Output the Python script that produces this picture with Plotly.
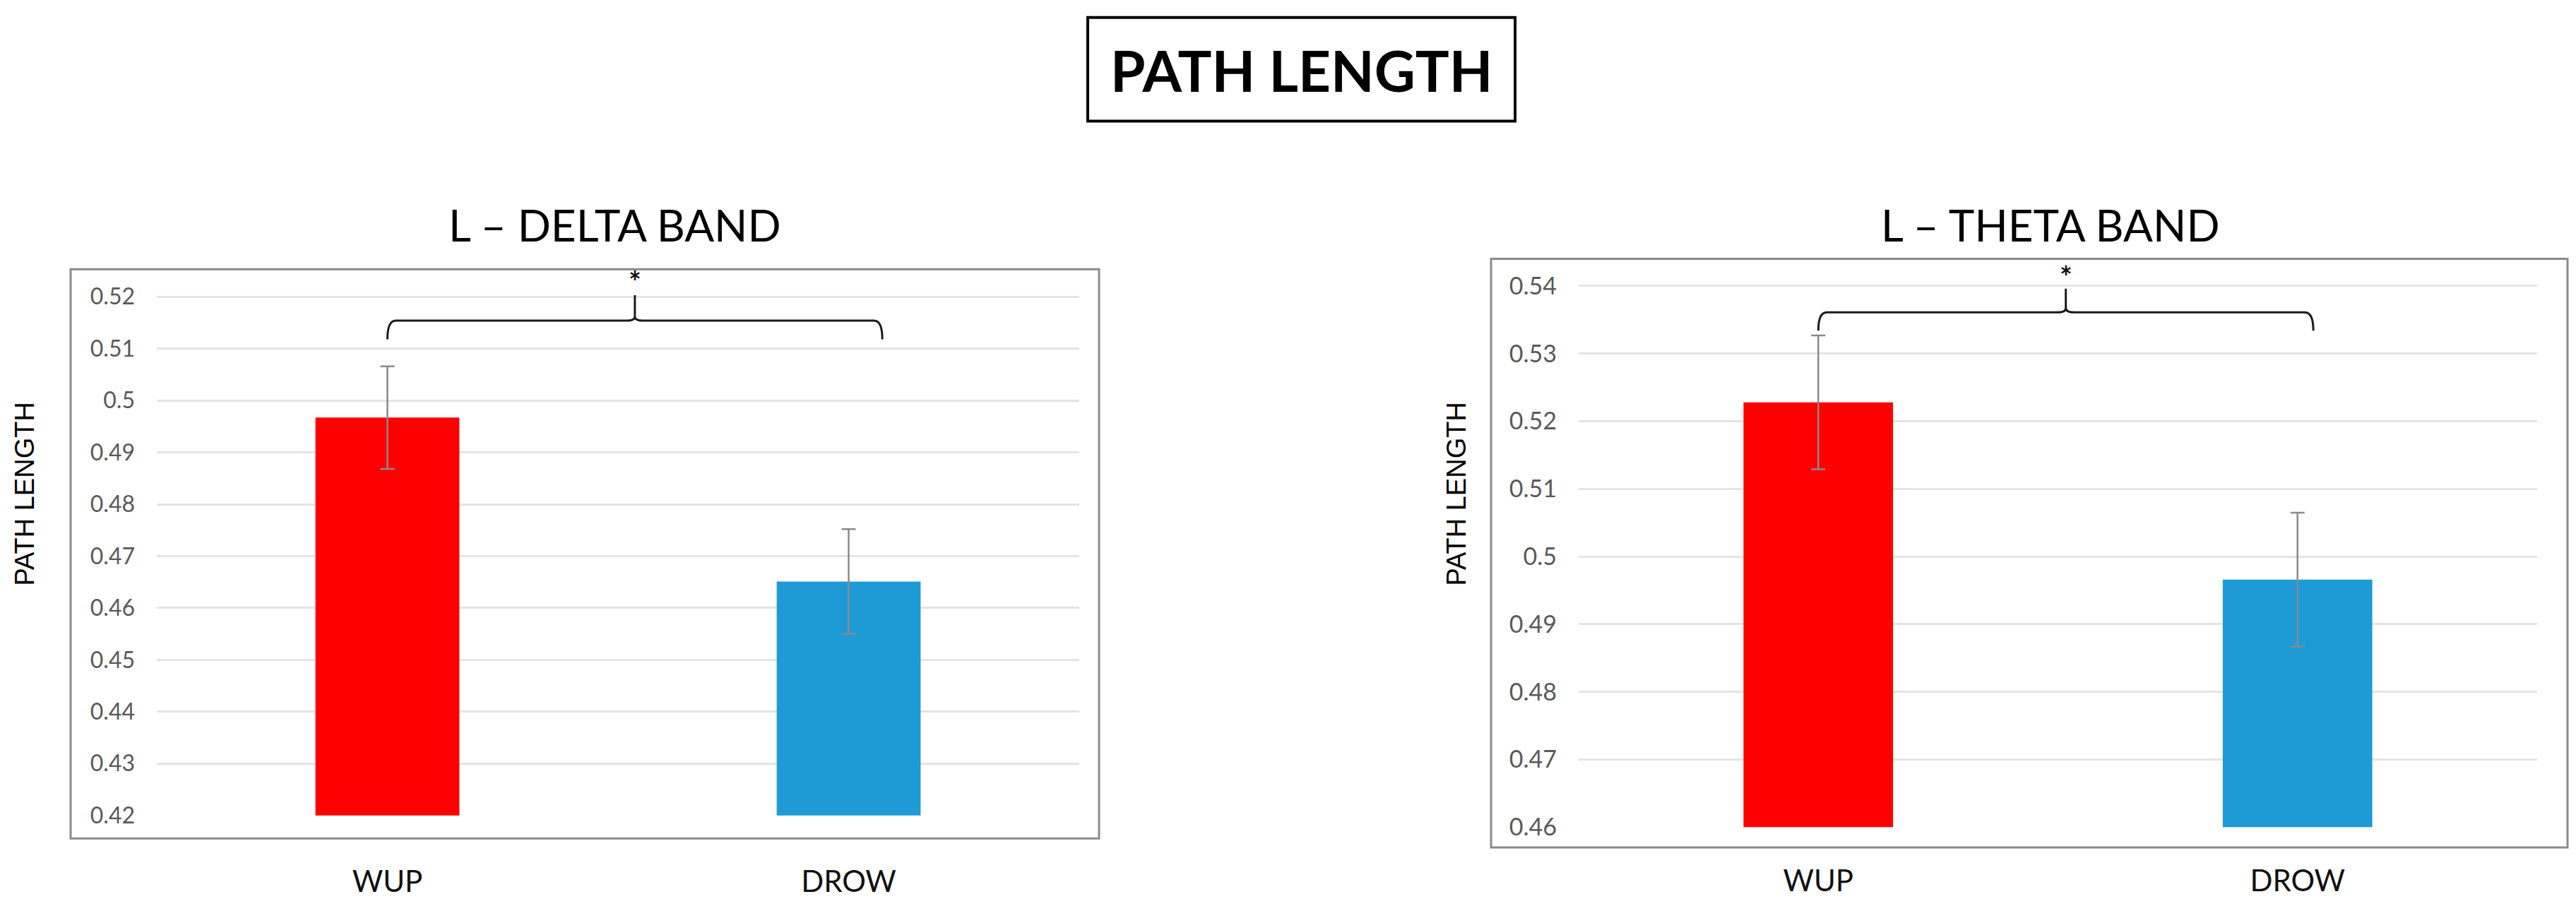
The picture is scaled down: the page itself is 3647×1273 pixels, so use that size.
import plotly.graph_objects as go

# ---- data ----
categories = ["WUP", "DROW"]

delta_means = [0.4967, 0.4651]
delta_errors = [0.0099, 0.0101]

theta_means = [0.5228, 0.4966]
theta_errors = [0.0099, 0.0099]

delta_ticks = [0.42, 0.43, 0.44, 0.45, 0.46, 0.47, 0.48, 0.49, 0.50, 0.51, 0.52]
delta_ticktext = ["0.42", "0.43", "0.44", "0.45", "0.46", "0.47", "0.48", "0.49", "0.5", "0.51", "0.52"]
theta_ticks = [0.46, 0.47, 0.48, 0.49, 0.50, 0.51, 0.52, 0.53, 0.54]
theta_ticktext = ["0.46", "0.47", "0.48", "0.49", "0.5", "0.51", "0.52", "0.53", "0.54"]

# significance bracket: left x, right x, bar level, tip level, spike top, star level
delta_bracket = dict(x0=0.0, x1=1.073, yh=0.5154, yt=0.5118, ys=0.5203, ystar=0.5229)
theta_bracket = dict(x0=0.0, x1=1.033, yh=0.5361, yt=0.5334, ys=0.5396, ystar=0.5414)

bar_colors = ["#FF0000", "#1E9BD7"]

W, H = 3647, 1273


def px_x(px):
    return px / W


def px_y(py):
    return 1 - py / H


def bracket_path(b, rx, ry):
    xc = (b["x0"] + b["x1"]) / 2
    return (
        f"M {b['x0']},{b['yt']} Q {b['x0']},{b['yh']} {b['x0'] + rx},{b['yh']} "
        f"L {xc - rx},{b['yh']} Q {xc},{b['yh']} {xc},{b['yh'] + ry} L {xc},{b['ys']} "
        f"M {xc},{b['yh'] + ry} Q {xc},{b['yh']} {xc + rx},{b['yh']} "
        f"L {b['x1'] - rx},{b['yh']} Q {b['x1']},{b['yh']} {b['x1']},{b['yt']}"
    )


fig = go.Figure()

panels = [
    dict(means=delta_means, errs=delta_errors, xa="x", ya="y", ticks=delta_ticks,
         ticktext=delta_ticktext, bracket=delta_bracket,
         xl=214, xr=1520, ybot=1164, ytop_tick=418.5, top_val=0.5245,
         tickfont=32, xstand=65, frame=(92, 379, 1548, 1197),
         title="L – DELTA BAND", title_x=862, ytitle_x=27),
    dict(means=theta_means, errs=theta_errors, xa="x2", ya="y2", ticks=theta_ticks,
         ticktext=theta_ticktext, bracket=theta_bracket,
         xl=2227, xr=3584, ybot=1181, ytop_tick=403, top_val=0.5425,
         tickfont=34, xstand=48, frame=(2103, 364, 3627, 1210),
         title="L – THETA BAND", title_x=2895, ytitle_x=2054),
]

shapes = []
annotations = []

for i, p in enumerate(panels):
    fig.add_trace(go.Bar(
        x=[0, 1], y=p["means"], width=0.312,
        marker=dict(color=bar_colors, line=dict(width=0)),
        error_y=dict(type="data", array=p["errs"], color="#8a8a8a", thickness=2.5, width=10),
        xaxis=p["xa"], yaxis=p["ya"], showlegend=False,
    ))

    lo, hi = p["ticks"][0], p["ticks"][-1]
    scale = (p["ybot"] - p["ytop_tick"]) / (hi - lo)
    px_top = p["ybot"] - (p["top_val"] - lo) * scale

    suffix = "" if i == 0 else "2"
    fig.update_layout(**{
        "xaxis" + suffix: dict(
            domain=[px_x(p["xl"]), px_x(p["xr"])], range=[-0.5, 1.5],
            tickvals=[0, 1], ticktext=categories, showgrid=False, zeroline=False,
            showline=False, ticks="", ticklabelstandoff=p["xstand"],
            tickfont=dict(family="Lato", size=42, color="#111111"),
            anchor="y" + suffix, fixedrange=True,
        ),
        "yaxis" + suffix: dict(
            domain=[px_y(p["ybot"]), px_y(px_top)], range=[lo, p["top_val"]],
            tickvals=p["ticks"], ticktext=p["ticktext"], showgrid=True,
            gridcolor="#e4e4e4", gridwidth=3, zeroline=False, showline=False,
            ticks="", ticklabelstandoff=30,
            tickfont=dict(family="Lato", size=p["tickfont"], color="#595959"),
            anchor="x" + suffix, fixedrange=True,
        ),
    })

    # chart frame
    fx0, fy0, fx1, fy1 = p["frame"]
    shapes.append(dict(type="rect", xref="paper", yref="paper",
                       x0=px_x(fx0), x1=px_x(fx1), y0=px_y(fy1), y1=px_y(fy0),
                       line=dict(color="#8a8a8a", width=3), fillcolor="rgba(0,0,0,0)"))

    # significance bracket
    b = p["bracket"]
    shapes.append(dict(type="path", xref=p["xa"], yref=p["ya"],
                       path=bracket_path(b, 0.018, (hi - lo) * 0.008),
                       line=dict(color="#1a1a1a", width=3)))
    annotations.append(dict(x=(b["x0"] + b["x1"]) / 2, y=b["ystar"], xref=p["xa"], yref=p["ya"],
                            text="<b>*</b>", showarrow=False, yanchor="middle",
                            font=dict(family="Lato", size=42, color="#111111")))

    # panel title
    annotations.append(dict(x=px_x(p["title_x"]), y=px_y(315), xref="paper", yref="paper",
                            text=p["title"], showarrow=False, xanchor="center", yanchor="middle",
                            font=dict(family="Lato", size=62, color="#000000")))

    # y-axis title
    annotations.append(dict(x=px_x(p["ytitle_x"]), y=px_y(702), xref="paper", yref="paper",
                            text="PATH LENGTH", textangle=-90, showarrow=False,
                            xanchor="center", yanchor="middle",
                            font=dict(family="Liberation Sans", size=38, color="#000000")))

# main title box
shapes.append(dict(type="rect", xref="paper", yref="paper",
                   x0=px_x(1532), x1=px_x(2137), y0=px_y(166), y1=px_y(17),
                   line=dict(color="#000000", width=4), fillcolor="rgba(0,0,0,0)"))
annotations.append(dict(x=px_x(1834), y=px_y(92), xref="paper", yref="paper",
                        text="<b>PATH LENGTH</b>", showarrow=False,
                        xanchor="center", yanchor="middle",
                        font=dict(family="Lato", size=80, color="#000000")))

fig.update_layout(
    width=W, height=H, autosize=False,
    margin=dict(l=0, r=0, t=0, b=0),
    paper_bgcolor="white", plot_bgcolor="white",
    shapes=shapes, annotations=annotations,
    showlegend=False,
)

fig.write_html("out.html")
